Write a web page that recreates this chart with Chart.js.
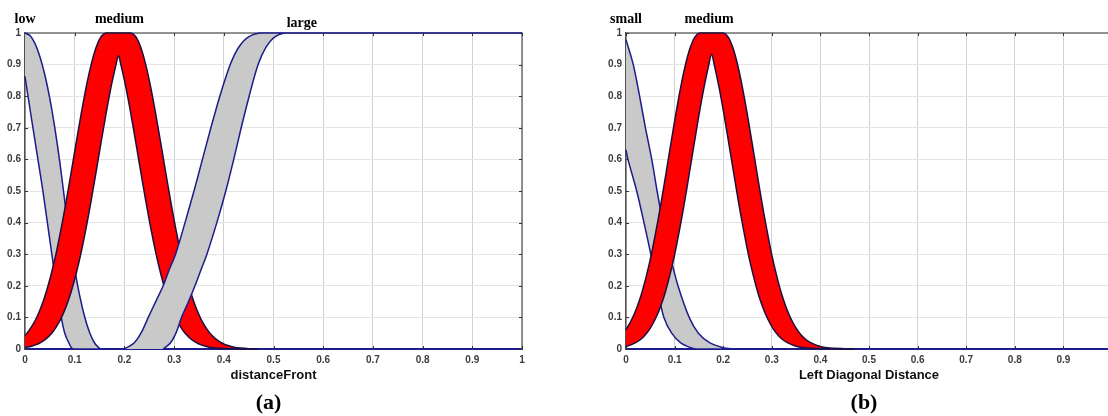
<!DOCTYPE html>
<html>
<head>
<meta charset="utf-8">
<script src="https://cdn.jsdelivr.net/npm/chart.js@4.4.0/dist/chart.umd.min.js"></script>
<style>
    html, body { margin: 0; padding: 0; background: #fff; overflow: hidden; width: 1108px; height: 416px; }
    .panel { position: absolute; top: 0; }
    #panelA { left: 0; }
    #panelB { left: 560px; }
</style>
</head>
<body>
<div class="panel" id="panelA"><canvas id="chartA" width="560" height="416"></canvas></div>
<div class="panel" id="panelB"><canvas id="chartB" width="590" height="416"></canvas></div>
<script>
// Tick positions shared by both axes of both panels
const tickValues = [0, 0.1, 0.2, 0.3, 0.4, 0.5, 0.6, 0.7, 0.8, 0.9, 1];

// (a) distanceFront - upper / lower membership of each set, [x, mu]
const lowUpperA = [[0,1],[0.01,0.992],[0.02,0.967],[0.03,0.925],[0.04,0.867],[0.05,0.792],[0.06,0.7],[0.07,0.592],[0.08,0.468],[0.09,0.352],[0.1,0.252],[0.11,0.169],[0.12,0.102],[0.13,0.052],[0.14,0.019],[0.15,0.002],[0.155,0]];
const lowLowerA = [[0,0.863],[0.006,0.8],[0.016,0.7],[0.026,0.6],[0.036,0.5],[0.045,0.4],[0.054,0.3],[0.063,0.2],[0.073,0.1],[0.08,0.05],[0.088,0.02],[0.097,0]];
const mediumUpperA = [[0,0.043],[0.003,0.048],[0.013,0.07],[0.023,0.098],[0.033,0.135],[0.043,0.182],[0.053,0.239],[0.063,0.306],[0.073,0.383],[0.083,0.469],[0.093,0.56],[0.103,0.653],[0.113,0.744],[0.123,0.828],[0.133,0.899],[0.143,0.954],[0.153,0.988],[0.163,1],[0.213,1],[0.223,0.988],[0.233,0.954],[0.243,0.899],[0.253,0.828],[0.263,0.744],[0.273,0.653],[0.283,0.56],[0.293,0.469],[0.303,0.383],[0.313,0.306],[0.323,0.239],[0.333,0.182],[0.343,0.135],[0.353,0.098],[0.363,0.07],[0.373,0.048],[0.383,0.033],[0.393,0.022],[0.403,0.014],[0.413,0.009],[0.423,0.005],[0.433,0.003],[0.45,0.001],[0.47,0]];
const mediumLowerA = [[0,0.005],[0.013,0.009],[0.023,0.014],[0.033,0.022],[0.043,0.033],[0.053,0.048],[0.063,0.07],[0.073,0.098],[0.083,0.135],[0.093,0.182],[0.103,0.239],[0.113,0.306],[0.123,0.383],[0.133,0.469],[0.143,0.56],[0.153,0.653],[0.163,0.744],[0.173,0.828],[0.183,0.899],[0.188,0.929],[0.193,0.899],[0.203,0.828],[0.213,0.744],[0.223,0.653],[0.233,0.56],[0.243,0.469],[0.253,0.383],[0.263,0.306],[0.273,0.239],[0.283,0.182],[0.293,0.135],[0.303,0.098],[0.313,0.07],[0.323,0.048],[0.333,0.033],[0.343,0.022],[0.353,0.014],[0.363,0.009],[0.373,0.005],[0.383,0.003],[0.393,0.002],[0.41,0.001],[0.47,0]];
const largeUpperA = [[0.2,0],[0.22,0.02],[0.235,0.055],[0.248,0.1],[0.263,0.15],[0.278,0.2],[0.29,0.25],[0.303,0.3],[0.322,0.4],[0.34,0.5],[0.357,0.6],[0.374,0.7],[0.392,0.8],[0.413,0.9],[0.43,0.955],[0.45,0.988],[0.477,1],[1,1]];
const largeLowerA = [[0.278,0],[0.293,0.02],[0.305,0.055],[0.315,0.1],[0.329,0.15],[0.342,0.2],[0.354,0.25],[0.366,0.3],[0.386,0.4],[0.404,0.5],[0.42,0.6],[0.435,0.7],[0.451,0.8],[0.469,0.9],[0.485,0.955],[0.503,0.988],[0.527,1],[1,1]];

// (b) Left Diagonal Distance
const smallUpperB = [[0,0.979],[0.015,0.9],[0.028,0.8],[0.04,0.7],[0.053,0.6],[0.064,0.5],[0.076,0.4],[0.09,0.3],[0.107,0.2],[0.13,0.1],[0.149,0.05],[0.172,0.02],[0.2,0.004],[0.22,0]];
const smallLowerB = [[0,0.63],[0.004,0.6],[0.022,0.5],[0.037,0.4],[0.051,0.3],[0.063,0.2],[0.078,0.1],[0.094,0.05],[0.112,0.02],[0.13,0.006],[0.145,0]];
const mediumUpperB = [[0,0.061],[0.002,0.066],[0.012,0.094],[0.022,0.13],[0.032,0.175],[0.042,0.232],[0.052,0.298],[0.062,0.376],[0.072,0.461],[0.082,0.553],[0.092,0.647],[0.102,0.739],[0.112,0.824],[0.122,0.897],[0.132,0.953],[0.142,0.988],[0.152,1],[0.2,1],[0.21,0.988],[0.22,0.953],[0.23,0.897],[0.24,0.824],[0.25,0.739],[0.26,0.647],[0.27,0.553],[0.28,0.461],[0.29,0.376],[0.3,0.298],[0.31,0.232],[0.32,0.175],[0.33,0.13],[0.34,0.094],[0.35,0.066],[0.36,0.045],[0.37,0.03],[0.38,0.02],[0.39,0.013],[0.4,0.008],[0.41,0.005],[0.42,0.003],[0.43,0.002],[0.45,0.001],[0.47,0]];
const mediumLowerB = [[0,0.008],[0.01,0.013],[0.02,0.02],[0.03,0.03],[0.04,0.045],[0.05,0.066],[0.06,0.094],[0.07,0.13],[0.08,0.175],[0.09,0.232],[0.1,0.298],[0.11,0.376],[0.12,0.461],[0.13,0.553],[0.14,0.647],[0.15,0.739],[0.16,0.824],[0.17,0.897],[0.176,0.933],[0.182,0.897],[0.192,0.824],[0.202,0.739],[0.212,0.647],[0.222,0.553],[0.232,0.461],[0.242,0.376],[0.252,0.298],[0.262,0.232],[0.272,0.175],[0.282,0.13],[0.292,0.094],[0.302,0.066],[0.312,0.045],[0.322,0.03],[0.332,0.02],[0.342,0.013],[0.352,0.008],[0.362,0.005],[0.372,0.003],[0.382,0.002],[0.4,0.001],[0.47,0]];

const GRAY = '#c9c9c9';
const RED = '#ff0000';
const NAVY = '#1c1c8c';
const DARK_EDGE = '#1a1040';

// Footprint of uncertainty: upper curve out, lower curve back, filled as one shape
function band(upper, lower, fillColor, edgeColor, order) {
    return {
        data: upper.concat(lower.slice().reverse()).map(([x, y]) => ({ x, y })),
        showLine: true,
        fill: 'shape',
        backgroundColor: fillColor,
        borderColor: edgeColor,
        borderWidth: 1.5,
        pointRadius: 0,
        tension: 0.3,
        clip: 3,
        order: order
    };
}

// "0.1" style labels, integers without a decimal
function tickLabel(value) {
    return String(Number(value.toFixed(1)));
}

// Box border, inward ticks, set names and captions
const matlabFrame = {
    id: 'matlabFrame',
    beforeDatasetsDraw(chart) {
        const { ctx, chartArea: a, scales: { x, y } } = chart;
        ctx.save();
        ctx.strokeStyle = '#707070';
        ctx.lineWidth = 1.5;
        ctx.beginPath();
        ctx.moveTo(a.left, a.top);
        ctx.lineTo(a.right, a.top);
        ctx.lineTo(a.right, a.bottom);
        ctx.stroke();

        ctx.strokeStyle = '#333';
        ctx.lineWidth = 1;
        ctx.beginPath();
        tickValues.forEach(v => {
            const px = Math.round(x.getPixelForValue(v)) + 0.5;
            ctx.moveTo(px, a.top); ctx.lineTo(px, a.top + 3);
            ctx.moveTo(px, a.bottom); ctx.lineTo(px, a.bottom - 3);
            const py = Math.round(y.getPixelForValue(v)) + 0.5;
            ctx.moveTo(a.left, py); ctx.lineTo(a.left + 3, py);
            ctx.moveTo(a.right, py); ctx.lineTo(a.right - 3, py);
        });
        ctx.stroke();
        ctx.restore();
    },
    afterDraw(chart, args, opts) {
        const { ctx, chartArea: a, scales: { x } } = chart;
        ctx.save();
        ctx.fillStyle = '#000';
        ctx.textAlign = 'center';
        ctx.textBaseline = 'alphabetic';

        ctx.font = 'bold 14px "Liberation Serif"';
        opts.setNames.forEach(s => {
            ctx.fillText(s.text, x.getPixelForValue(s.at), s.baseline);
        });

        const mid = (a.left + a.right) / 2;
        ctx.fillStyle = '#111';
        ctx.font = 'bold 13px "Liberation Sans"';
        ctx.fillText(opts.title, mid, 379);

        ctx.fillStyle = '#000';
        ctx.font = 'bold 22px "Liberation Serif"';
        ctx.fillText(opts.tag, mid - 5, 409);
        ctx.restore();
    }
};

function makePanel(canvasId, datasets, padLeft, frame, xLabel) {
    const tickFont = { family: '"Liberation Sans"', size: 10, weight: 'bold' };
    return new Chart(document.getElementById(canvasId), {
        type: 'scatter',
        data: { datasets: datasets },
        options: {
            responsive: false,
            animation: false,
            events: [],
            layout: { padding: { left: padLeft, right: 38, top: 33, bottom: 0 } },
            plugins: {
                legend: { display: false },
                tooltip: { enabled: false },
                matlabFrame: frame
            },
            scales: {
                x: {
                    type: 'linear',
                    min: 0,
                    max: 1,
                    afterBuildTicks: s => { s.ticks = tickValues.map(v => ({ value: v })); },
                    afterFit: s => { s.height = 67; },
                    grid: { color: '#d0d0d0', lineWidth: 1, drawTicks: false },
                    border: { color: NAVY, width: 2 },
                    ticks: { font: tickFont, color: '#3c3c3c', padding: 5, maxRotation: 0, autoSkip: false, callback: xLabel }
                },
                y: {
                    type: 'linear',
                    min: 0,
                    max: 1,
                    afterBuildTicks: s => { s.ticks = tickValues.map(v => ({ value: v })); },
                    afterFit: s => { s.width = 25; },
                    grid: { color: '#e4e4e4', lineWidth: 1, drawTicks: false },
                    border: { color: '#505050', width: 1.5 },
                    ticks: { font: tickFont, color: '#3c3c3c', padding: 4, autoSkip: false, callback: tickLabel }
                }
            }
        },
        plugins: [matlabFrame]
    });
}

makePanel('chartA', [
    band(largeUpperA, largeLowerA, GRAY, NAVY, 0),
    band(mediumUpperA, mediumLowerA, RED, DARK_EDGE, 1),
    band(lowUpperA, lowLowerA, GRAY, NAVY, 2)
], 0, {
    setNames: [
        { text: 'low', at: 0, baseline: 23 },
        { text: 'medium', at: 0.19, baseline: 23 },
        { text: 'large', at: 0.557, baseline: 27 }
    ],
    title: 'distanceFront',
    tag: '(a)'
}, tickLabel);

// right edge of panel (b) runs past the page, its last label is cut away
makePanel('chartB', [
    band(mediumUpperB, mediumLowerB, RED, DARK_EDGE, 0),
    band(smallUpperB, smallLowerB, GRAY, NAVY, 1)
], 41, {
    setNames: [
        { text: 'small', at: 0, baseline: 23 },
        { text: 'medium', at: 0.171, baseline: 23 }
    ],
    title: 'Left Diagonal Distance',
    tag: '(b)'
}, v => (v === 1 ? '' : tickLabel(v)));
</script>
</body>
</html>
